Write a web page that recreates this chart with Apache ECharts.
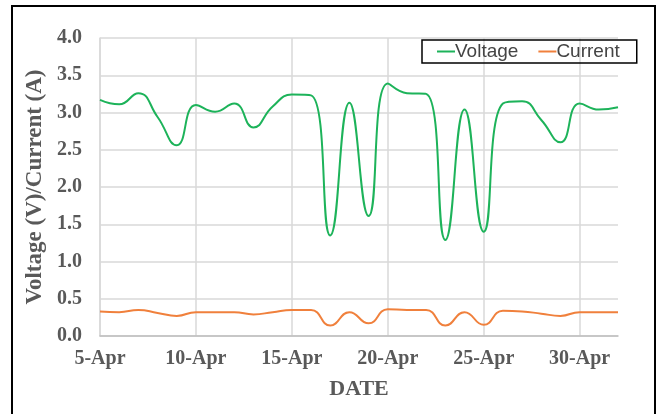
<!DOCTYPE html>
<html>
<head>
<meta charset="utf-8">
<script src="https://cdn.jsdelivr.net/npm/echarts@6/dist/echarts.min.js"></script>
<style>
html,body{margin:0;padding:0;background:#fff;}
#chart{width:660px;height:414px;}
</style>
</head>
<body>
<div id="chart"></div>
<script>
const dates = ['5-Apr','6-Apr','7-Apr','8-Apr','9-Apr','10-Apr','11-Apr','12-Apr','13-Apr','14-Apr',
  '15-Apr','16-Apr','17-Apr','18-Apr','19-Apr','20-Apr','21-Apr','22-Apr','23-Apr','24-Apr',
  '25-Apr','26-Apr','27-Apr','28-Apr','29-Apr','30-Apr','1-May','2-May'];
const voltage = [3.17,3.11,3.26,2.94,2.56,3.10,3.01,3.12,2.80,3.08,
  3.24,3.23,1.35,3.13,1.61,3.39,3.26,3.25,1.29,3.04,
  1.40,3.12,3.15,2.90,2.60,3.12,3.04,3.07];
const current = [0.33,0.32,0.35,0.31,0.27,0.32,0.32,0.32,0.29,0.32,
  0.35,0.35,0.14,0.32,0.17,0.36,0.35,0.35,0.14,0.32,
  0.15,0.34,0.33,0.30,0.27,0.32,0.32,0.32];
const yTicks = {min:0, max:4, interval:0.5};
const xTickStep = 5;

const chart = echarts.init(document.getElementById('chart'), null, {renderer:'canvas'});
const serif = 'Liberation Serif';
chart.setOption({
  animation:false,
  backgroundColor:'#fff',
  graphic:[{type:'rect', shape:{x:12,y:6,width:643,height:420}, style:{fill:'none', stroke:'#000', lineWidth:2}, z:-1}],
  grid:{left:100, right:42, top:38, bottom:78},
  legend:{
    left:422, top:40, padding:[2,17,2,15],
    borderColor:'#000', borderWidth:1.5,
    icon:'rect', itemWidth:18, itemHeight:2, itemGap:20,
    textStyle:{fontFamily:'Liberation Sans', fontSize:19, color:'#444', padding:[0,0,0,-5]},
    data:['Voltage','Current']
  },
  xAxis:{
    type:'value', min:0, max:dates.length-1, interval:xTickStep,
    name:'DATE', nameLocation:'middle', nameGap:42,
    nameTextStyle:{fontFamily:serif, fontSize:22, fontWeight:'bold', color:'#595959'},
    axisLine:{lineStyle:{color:'#bfbfbf', width:1.5}},
    axisTick:{show:false},
    axisLabel:{margin:13, fontFamily:serif, fontSize:20, fontWeight:'bold', color:'#595959',
      showMaxLabel:false, formatter:v=>(v%xTickStep===0 ? dates[v] : '')},
    splitLine:{show:true, showMaxLine:false, lineStyle:{color:'#d9d9d9', width:1.5}}
  },
  yAxis:{
    type:'value', min:yTicks.min, max:yTicks.max, interval:yTicks.interval,
    name:'Voltage (V)/Current (A)', nameLocation:'middle', nameGap:46, nameRotate:90,
    nameTextStyle:{fontFamily:serif, fontSize:23, fontWeight:'bold', color:'#595959'},
    axisLine:{show:true, lineStyle:{color:'#d9d9d9', width:1.5}},
    axisTick:{show:false},
    axisLabel:{margin:18, fontFamily:serif, fontSize:20, fontWeight:'bold', color:'#595959',
      formatter:v=>v.toFixed(1)},
    splitLine:{lineStyle:{color:'#d9d9d9', width:1.5}}
  },
  series:[
    {name:'Voltage', type:'line', data:voltage.map((v,i)=>[i,v]), smooth:0.5, showSymbol:false, symbol:'none',
      lineStyle:{color:'#1db35a', width:2}, itemStyle:{color:'#1db35a'}},
    {name:'Current', type:'line', data:current.map((v,i)=>[i,v]), smooth:0.5, showSymbol:false, symbol:'none',
      lineStyle:{color:'#f0803c', width:2}, itemStyle:{color:'#f0803c'}}
  ]
});
</script>
</body>
</html>
